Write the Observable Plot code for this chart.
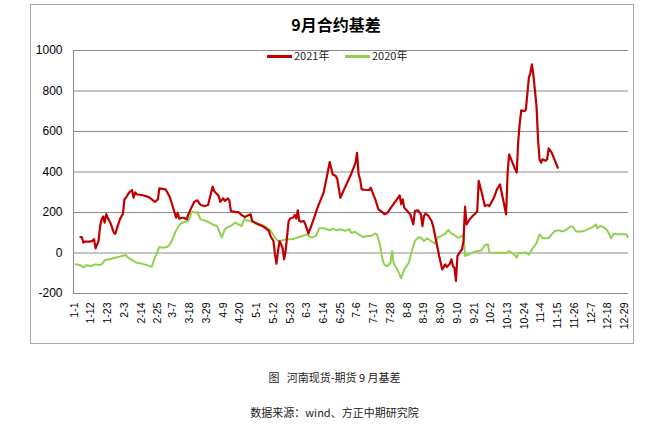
<!DOCTYPE html>
<html><head><meta charset="utf-8">
<script src="https://cdn.jsdelivr.net/npm/d3@7"></script>
<script src="https://cdn.jsdelivr.net/npm/@observablehq/plot@0.6"></script>
<style>
body{margin:0;background:#fff;font-family:"Liberation Sans",Arial,sans-serif;}
#wrap{position:relative;width:669px;height:424px;overflow:hidden;}
#box{position:absolute;left:30px;top:4px;width:604px;height:340px;border:1px solid #a6a6a6;box-sizing:border-box;}
#chart{position:absolute;left:0;top:0;}
#title{position:absolute;left:0;top:12px;width:672px;text-align:center;font:bold 16px "Noto Sans CJK SC",sans-serif;color:#000;}
.lg{position:absolute;font:11px "Noto Sans CJK SC",sans-serif;color:#222;top:47px;}
.sw{position:absolute;top:55px;height:3px;width:25px;}
.cap{position:absolute;left:0;width:669px;text-align:center;font:11px "Noto Sans CJK SC",sans-serif;color:#222;}
</style></head>
<body>
<div id="wrap">
  <div id="box"></div>
  <div id="chart"></div>
  <div id="title">9月合约基差</div>
  <div class="sw" style="left:267px;background:#C00000"></div>
  <div class="lg" style="left:294px">2021年</div>
  <div class="sw" style="left:345px;background:#92D050"></div>
  <div class="lg" style="left:372px">2020年</div>
  <div class="cap" style="top:369px;">图&nbsp;&nbsp;&nbsp;河南现货-期货 9 月基差</div>
  <div class="cap" style="top:404px;">数据来源：wind、方正中期研究院</div>
</div>
<script>
const xTickLabels = ["1-1","1-12","1-23","2-3","2-14","2-25","3-7","3-18","3-29","4-9","4-20","5-1","5-12","5-23","6-3","6-14","6-25","7-6","7-17","7-28","8-8","8-19","8-30","9-10","9-21","10-2","10-13","10-24","11-4","11-15","11-26","12-7","12-18","12-29"];
const yTicks = [-200,0,200,400,600,800,1000];

const redDates = ["1-5","1-6","1-7","1-8","1-11","1-13","1-14","1-15","1-17","1-18","1-19","1-20","1-21","1-22","1-23","1-25","1-27","1-28","1-29","1-31",
"2-2","2-3","2-4","2-6","2-8","2-9","2-10","2-11","2-15","2-19","2-21","2-23","2-25","2-26",
"3-2","3-3","3-5","3-6","3-8","3-9","3-10","3-11","3-13","3-14","3-16","3-17","3-19","3-21","3-23","3-25","3-28","3-30",
"4-2","4-3","4-6","4-7","4-9","4-10","4-12","4-13","4-14","4-17","4-19","4-21","4-23","4-27","4-28","4-30",
"5-3","5-6","5-9","5-10","5-12","5-13","5-14","5-15","5-16","5-18","5-19","5-20","5-22","5-23","5-25","5-26","5-27","5-28","5-29","5-30",
"6-1","6-2","6-4","6-7","6-10","6-14","6-16","6-18","6-20","6-22","6-23","6-25","6-28",
"7-2","7-5","7-6","7-7","7-8","7-9","7-12","7-14","7-15","7-16","7-18","7-20","7-23","7-24","7-26","7-29",
"8-3","8-4","8-5","8-6","8-8","8-10","8-12","8-13","8-15","8-17","8-18","8-19","8-20","8-22","8-24","8-25","8-27","8-29","8-31",
"9-2","9-3","9-5","9-6","9-7","9-8","9-9","9-10","9-11","9-13","9-14","9-15","9-16","9-18","9-20","9-23","9-24","9-26","9-28","9-30",
"10-1","10-4","10-6","10-8","10-10","10-12","10-13","10-14","10-16","10-18","10-19","10-20","10-21","10-22","10-24","10-25","10-27","10-28","10-29","10-30",
"11-1","11-2","11-3","11-4","11-5","11-7","11-8","11-9","11-11","11-13","11-15"];
const redValues = [79,79,51,56,56,60,68,23,60,133,166,180,150,192,174,145,100,95,120,166,
194,265,273,298,311,273,300,290,285,276,265,252,265,319,
314,302,273,248,199,174,199,170,174,174,166,190,224,253,260,237,232,237,
328,306,281,253,270,257,270,260,207,202,202,188,178,191,158,150,
138,128,109,84,59,-7,-53,10,59,26,-31,10,158,170,175,188,170,211,158,155,
158,141,96,158,224,298,372,449,388,380,364,273,323,
388,446,495,388,364,314,311,311,323,302,265,216,199,191,199,232,
285,241,265,224,207,191,141,207,211,191,133,183,194,183,158,133,59,-15,-81,
-56,-69,-53,-31,-64,-73,-138,-15,-3,18,59,229,141,166,183,204,356,298,232,237,
232,273,314,339,265,191,397,487,450,413,397,553,643,705,700,708,866,890,932,875,
726,561,463,446,463,455,463,517,496,459,421];

const greenDates = ["1-2","1-5","1-7","1-9","1-12","1-15","1-17","1-19","1-21","1-24",
"2-4","2-5","2-8","2-11","2-14","2-18","2-21","2-23","2-26","2-28",
"3-3","3-5","3-7","3-9","3-12","3-15","3-17","3-18","3-19","3-20","3-22","3-23","3-25","3-29",
"4-2","4-5","4-8","4-10","4-12","4-14","4-17","4-19","4-21","4-23","4-24","4-27","4-29",
"5-1","5-4","5-7","5-10","5-13","5-15","5-18","5-21","5-24","5-26","5-29","5-31",
"6-3","6-4","6-6","6-9","6-11","6-14","6-16","6-18","6-20","6-23","6-25","6-28",
"7-1","7-2","7-5","7-7","7-10","7-13","7-15","7-18","7-19","7-21","7-23","7-24","7-26","7-28","7-29","7-30","7-31",
"8-2","8-4","8-6","8-9","8-11","8-13","8-15","8-17","8-19","8-21","8-23","8-26","8-28","8-31",
"9-2","9-4","9-6","9-8","9-10","9-12","9-14","9-15","9-16","9-17","9-19","9-22","9-24","9-26","9-28","9-30",
"10-1","10-12","10-14","10-17","10-19","10-20","10-22","10-25","10-27","10-30",
"11-1","11-3","11-5","11-9","11-11","11-13","11-16","11-18","11-21","11-23","11-25","11-27",
"12-1","12-3","12-6","12-8","12-10","12-11","12-13","12-15","12-17","12-19","12-20","12-22","12-25","12-28","12-30","12-31"];
const greenValues = [-56,-60,-72,-60,-64,-56,-60,-56,-36,-31,
-10,-20,-35,-48,-52,-60,-68,-23,30,26,
30,43,76,112,146,154,158,174,199,204,199,202,166,158,
141,133,76,117,128,133,150,141,133,170,162,158,150,
141,141,128,112,76,59,63,68,68,72,79,84,
92,84,76,84,122,122,117,112,120,112,117,109,
117,100,104,92,79,84,84,96,92,43,-40,-59,-64,-48,10,-48,-64,
-89,-125,-81,-48,10,59,76,76,59,71,63,46,76,87,
96,114,96,89,76,78,92,-15,-8,-10,0,7,10,15,38,43,
2,0,10,-5,-23,0,0,3,-8,30,
48,92,73,73,92,109,112,106,117,130,130,106,
106,112,122,128,141,122,133,128,117,92,73,96,92,92,92,79];

const dayOf = s => { const [m, d] = s.split("-").map(Number); return d3.timeDay.count(new Date(2021, 0, 1), new Date(2021, m - 1, d)); };
const xDomain = [-0.5, 364.5];
const xTicks = xTickLabels.map(dayOf);
const labelOf = new Map(xTicks.map((t, i) => [t, xTickLabels[i]]));
const red = redDates.map((s, i) => ({day: dayOf(s), value: redValues[i]}));
const green = greenDates.map((s, i) => ({day: dayOf(s), value: greenValues[i]}));

const chart = Plot.plot({
  width: 669, height: 345,
  marginLeft: 73, marginRight: 41, marginTop: 50, marginBottom: 52,
  style: {fontFamily: "'Liberation Sans', Arial, sans-serif", color: "#000", background: "transparent"},
  x: {domain: xDomain},
  y: {domain: [-200, 1000]},
  marks: [
    Plot.ruleY(yTicks, {stroke: "#8c8c8c", strokeWidth: 1}),
    Plot.ruleX([xDomain[0]], {stroke: "#8c8c8c", strokeWidth: 1}),
    Plot.axisX({ticks: xTicks, tickFormat: d => labelOf.get(d), tickRotate: -90, tickSize: 0, tickPadding: 9, fontSize: 10.5, label: null}),
    Plot.axisY({ticks: yTicks, tickFormat: d => String(d), tickSize: 0, tickPadding: 11, fontSize: 12, label: null}),
    Plot.line(green, {x: "day", y: "value", stroke: "#92D050", strokeWidth: 2}),
    Plot.line(red, {x: "day", y: "value", stroke: "#C00000", strokeWidth: 2.2})
  ]
});
document.getElementById("chart").appendChild(chart);
</script>
</body></html>
